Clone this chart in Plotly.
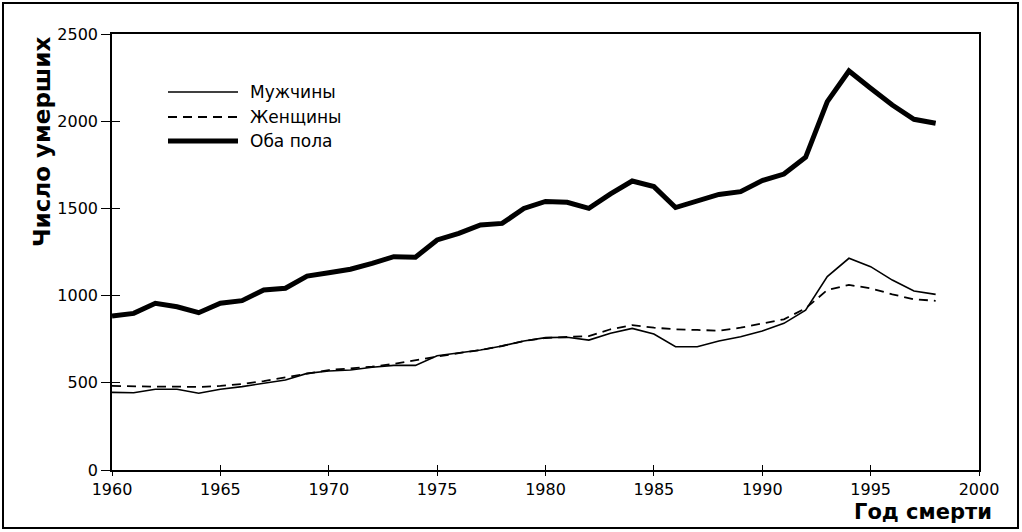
import plotly.graph_objects as go

years = list(range(1960, 1999))

both = [883, 898, 956, 936, 902, 956, 971, 1032, 1042, 1112,
        1131, 1151, 1185, 1223, 1220, 1319, 1357, 1405, 1414, 1500,
        1540, 1535, 1500, 1583, 1657, 1625, 1505, 1545, 1580, 1596,
        1660, 1697, 1793, 2112, 2288, 2189, 2093, 2011, 1988]

men = [445, 443, 463, 463, 440, 463, 478, 497, 516, 554,
       568, 573, 589, 600, 600, 655, 673, 688, 711, 740,
       759, 761, 745, 784, 812, 780, 707, 707, 740, 764,
       797, 841, 917, 1109, 1214, 1166, 1089, 1026, 1007]

women = [482, 478, 478, 478, 476, 482, 493, 510, 531, 554,
         573, 583, 593, 608, 631, 650, 670, 688, 711, 740,
         757, 762, 768, 807, 831, 816, 807, 803, 799, 816,
         841, 864, 927, 1032, 1061, 1042, 1007, 979, 970]

names = ["Мужчины", "Женщины", "Оба пола"]
x_ticks = list(range(1960, 2001, 5))
y_ticks = list(range(0, 2501, 500))

FONT = "DejaVu Sans, Liberation Sans, Arial, sans-serif"

styles = [dict(color="black", width=1.6),
          dict(color="black", width=1.8, dash="9px,6px"),
          dict(color="black", width=5)]

fig = go.Figure()
for nm, vals, st in zip(names, [men, women, both], styles):
    fig.add_trace(go.Scatter(x=years, y=vals, mode="lines", name=nm,
                             line=st, showlegend=False))

L, R, T, B = 112, 979, 34, 470
W, H = 1022, 532
pw, ph = R - L, B - T

def px2paper_x(px):
    return (px - L) / pw

def px2paper_y(py):
    return (B - py) / ph

# legend (drawn as key lines + labels)
shapes = []
annotations = []
leg_rows = [92, 117, 141]
for nm, st, ry in zip(names, styles, leg_rows):
    ln = dict(color=st["color"], width=st["width"])
    if "dash" in st:
        ln["dash"] = st["dash"]
    shapes.append(dict(type="line", xref="paper", yref="paper",
                       x0=px2paper_x(168), x1=px2paper_x(238),
                       y0=px2paper_y(ry), y1=px2paper_y(ry), line=ln))
    annotations.append(dict(text=nm, xref="paper", yref="paper",
                            x=px2paper_x(248), y=px2paper_y(ry),
                            xanchor="left", yanchor="middle", showarrow=False,
                            font=dict(size=17, family=FONT)))

annotations += [
    dict(text="<b>Число умерших</b>", xref="paper", yref="paper",
         x=px2paper_x(42), y=px2paper_y(142), xanchor="center", yanchor="middle",
         textangle=-90, showarrow=False, font=dict(size=23, family=FONT)),
    dict(text="<b>Год смерти</b>", xref="paper", yref="paper",
         x=px2paper_x(994), y=px2paper_y(512), xanchor="right", yanchor="middle",
         showarrow=False, font=dict(size=21, family=FONT)),
]

shapes.append(dict(type="rect", xref="paper", yref="paper",
                   x0=px2paper_x(3), x1=px2paper_x(1018),
                   y0=px2paper_y(528), y1=px2paper_y(3),
                   line=dict(color="black", width=2), fillcolor="rgba(0,0,0,0)",
                   layer="below"))

axis_common = dict(showgrid=False, zeroline=False, showline=True, linecolor="black",
                   linewidth=1.5, tickcolor="black", tickwidth=1.3)

fig.update_layout(
    width=W, height=H,
    margin=dict(l=L, r=W - R, t=T, b=H - B, pad=0),
    paper_bgcolor="white", plot_bgcolor="white",
    font=dict(family=FONT, color="black", size=16),
    showlegend=False,
    xaxis=dict(range=[1960, 2000], tickvals=x_ticks, ticktext=[str(v) for v in x_ticks],
               mirror=True, ticks="outside", ticklen=4,
               tickfont=dict(size=16, family=FONT), **axis_common),
    yaxis=dict(range=[0, 2500], tickvals=y_ticks, ticktext=[str(v) for v in y_ticks],
               mirror=True, ticks="outside", ticklen=9,
               tickfont=dict(size=16, family=FONT), **axis_common),
    xaxis2=dict(range=[1960, 2000], tickvals=x_ticks, overlaying="x", side="bottom",
                anchor="y", ticks="inside", ticklen=5, showticklabels=False,
                showgrid=False, zeroline=False, showline=False, tickcolor="black",
                tickwidth=1.3),
    yaxis2=dict(range=[0, 2500], tickvals=y_ticks, overlaying="y", side="left",
                anchor="x", ticks="inside", ticklen=8, showticklabels=False,
                showgrid=False, zeroline=False, showline=False, tickcolor="black",
                tickwidth=1.3),
    annotations=annotations,
    shapes=shapes,
)

# invisible helper trace so the overlay axes (inside tick halves) are drawn
fig.add_trace(go.Scatter(x=[1960], y=[0], xaxis="x2", yaxis="y2", mode="lines",
                         showlegend=False, hoverinfo="skip",
                         line=dict(color="rgba(0,0,0,0)")))

fig.write_html("out.html", config={"displayModeBar": False},
               post_script="document.body.style.margin='0';")
